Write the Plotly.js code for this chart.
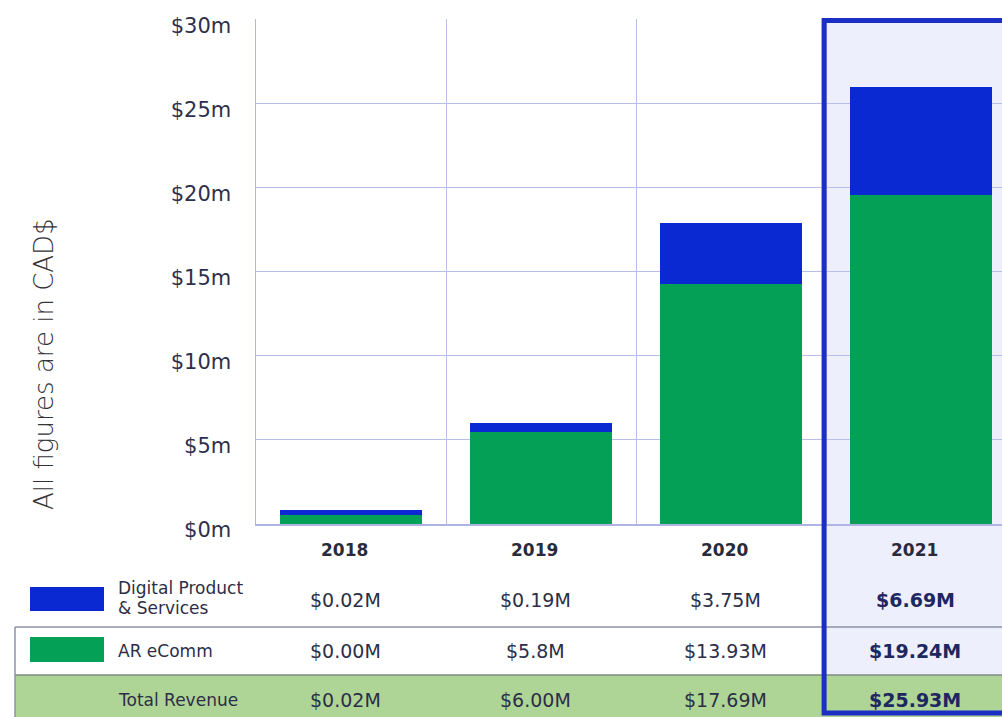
<!DOCTYPE html>
<html><head><meta charset="utf-8">
<script src="https://cdn.plot.ly/plotly-3.0.1.min.js"></script>
<style>html,body{margin:0;padding:0;background:#fff}#chart{width:1002px;height:717px}</style>
</head><body><div id="chart"></div>
<script>
// ---- data ----
const years = ['2018', '2019', '2020', '2021'];
const arEcommBar = [0.55, 5.5, 14.3, 19.6];   // bar heights ($m)
const digitalBar = [0.3, 0.5, 3.6, 6.4];
const digitalLabels = ['$0.02M', '$0.19M', '$3.75M', '$6.69M'];
const arEcommLabels = ['$0.00M', '$5.8M', '$13.93M', '$19.24M'];
const totalLabels = ['$0.02M', '$6.00M', '$17.69M', '$25.93M'];
const yTickVals = [0, 5, 10, 15, 20, 25, 30];
const yTickText = ['$0m', '$5m', '$10m', '$15m', '$20m', '$25m', '$30m'];
const rowNames = ['Digital Product<br>& Services', 'AR eComm', 'Total Revenue'];
const yTitle = 'All figures are in CAD$';

// ---- layout helpers ----
const W = 1002, H = 717, L = 256, T = 19, B = 193;
const plotW = W - L, plotH = H - T - B;
const px = X => (X - L) / plotW;
const py = Y => (H - B - Y) / plotH;
const idx = years.map((_, i) => i);

const FONT = 'DejaVu Sans, Open Sans, sans-serif';
const BLUE = '#0b29d3', GREEN = '#03a055', GRID = '#b9bdea', TXT = '#2c2e48';

const traces = [
  { type: 'bar', x: idx, y: arEcommBar, name: 'AR eComm', width: 0.75,
    marker: { color: GREEN, line: { width: 0 } }, hoverinfo: 'skip', showlegend: false },
  { type: 'bar', x: idx, y: digitalBar, name: 'Digital Product & Services', width: 0.75,
    marker: { color: BLUE, line: { width: 0 } }, hoverinfo: 'skip', showlegend: false }
];

const shapes = [
  // 2021 highlight fill
  { type: 'rect', xref: 'x', yref: 'paper', x0: 2.49, x1: 3.7, y0: py(714), y1: py(20), fillcolor: '#edf0fc', line: { width: 0 }, layer: 'below' },
  // total revenue row background
  { type: 'rect', xref: 'paper', yref: 'paper', x0: px(15), x1: 1, y0: py(718), y1: py(675), fillcolor: '#afd596', line: { width: 0 }, layer: 'below' },
  // table lines
  { type: 'line', xref: 'paper', yref: 'paper', x0: px(15), x1: 1, y0: py(627), y1: py(627), line: { color: '#8d92aa', width: 1.5 } },
  { type: 'line', xref: 'paper', yref: 'paper', x0: px(15), x1: 1, y0: py(675), y1: py(675), line: { color: '#7f8a86', width: 1.5 } },
  { type: 'line', xref: 'paper', yref: 'paper', x0: px(15), x1: px(15), y0: py(627), y1: py(718), line: { color: '#8d92aa', width: 1.5 } },
  // legend swatches
  { type: 'rect', xref: 'paper', yref: 'paper', x0: px(30), x1: px(104), y0: py(611), y1: py(587), fillcolor: BLUE, line: { width: 0 } },
  { type: 'rect', xref: 'paper', yref: 'paper', x0: px(30), x1: px(104), y0: py(662), y1: py(637), fillcolor: GREEN, line: { width: 0 } },
  // 2021 highlight border
  { type: 'rect', xref: 'x', yref: 'paper', x0: 2.49, x1: 3.7, y0: py(713), y1: py(20.5), line: { color: '#1b2fc4', width: 5 }, layer: 'above' }
];

const annotations = [];
years.forEach((yr, i) => {
  const bold = i === years.length - 1;
  annotations.push({ xref: 'x', yref: 'paper', x: i, y: py(550), yanchor: 'middle', text: '<b>' + yr + '</b>', showarrow: false, xshift: -7,
    font: { family: FONT, size: 17, color: '#2a2b3a' } });
  [[digitalLabels, 600], [arEcommLabels, 651], [totalLabels, 700]].forEach(([arr, Y]) => {
    annotations.push({ xref: 'x', yref: 'paper', x: i, y: py(Y), yanchor: 'middle', text: bold ? '<b>' + arr[i] + '</b>' : arr[i], showarrow: false, xshift: -6,
      font: { family: FONT, size: 19, color: bold ? '#1d2760' : TXT } });
  });
});
const nameLines = rowNames[0].split('<br>');
[[nameLines[0], 588], [nameLines[1], 608], [rowNames[1], 651], [rowNames[2], 700]].forEach(([t, Y]) => {
  annotations.push({ xref: 'paper', yref: 'paper', x: px(116), y: py(Y), xanchor: 'left', yanchor: 'middle', align: 'left', text: t, showarrow: false,
    font: { family: FONT, size: 17, color: TXT } });
});
annotations.push({ xref: 'paper', yref: 'paper', x: px(44), y: py(364), xanchor: 'center', yanchor: 'middle', text: yTitle, textangle: -90, showarrow: false,
  font: { family: FONT, size: 26, color: '#333338', weight: 300 } });

const layout = {
  width: W, height: H,
  margin: { l: L, r: 0, t: T, b: B, pad: 0 },
  paper_bgcolor: '#ffffff', plot_bgcolor: 'rgba(0,0,0,0)',
  barmode: 'stack',
  xaxis: { range: [-0.5, -0.5 + plotW / 190], tickmode: 'array', tickvals: [0.5, 1.5, 2.5], showticklabels: false,
    showgrid: true, gridcolor: GRID, gridwidth: 1, showline: true, linecolor: '#b0b4e3', linewidth: 1.5, zeroline: false, ticks: '', fixedrange: true },
  yaxis: { range: [0, 30.04], tickmode: 'array', tickvals: yTickVals, ticktext: yTickText, showgrid: true, gridcolor: GRID, gridwidth: 1,
    showline: true, linecolor: '#b0b4e3', linewidth: 1.5, zeroline: false, ticks: '', ticklabelstandoff: 19, ticklabelshift: 6,
    tickfont: { family: FONT, size: 21, color: '#2e2f4c' }, fixedrange: true },
  shapes: shapes, annotations: annotations, showlegend: false
};

Plotly.newPlot('chart', traces, layout, { displayModeBar: false, staticPlot: true });
</script>
</body></html>
